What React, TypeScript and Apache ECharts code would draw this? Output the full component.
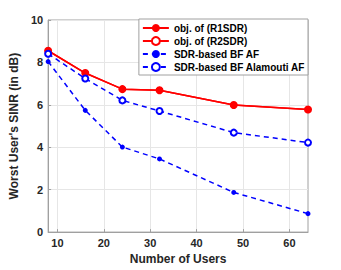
import React, { useEffect, useRef } from "react";
import * as echarts from "echarts";

const users = [8, 16, 24, 32, 48, 64];
const r1sdr = [8.55, 7.5, 6.74, 6.69, 5.99, 5.78];
const r2sdr = [8.55, 7.5, 6.74, 6.69, 5.99, 5.78];
const sdrAF = [8.04, 5.74, 4.01, 3.45, 1.87, 0.87];
const sdrAlamouti = [8.41, 7.24, 6.21, 5.71, 4.69, 4.22];
const xTicks = [10, 20, 30, 40, 50, 60];

const FONT = "Liberation Sans";

export default function App() {
  const ref = useRef<HTMLDivElement>(null);
  useEffect(() => {
    if (!ref.current) return;
    const chart = echarts.init(ref.current, undefined, { renderer: "svg" });
    const pts = (ys: number[]) => users.map((u, i) => [u, ys[i]]);
    chart.setOption({
      animation: false,
      grid: {
        left: 44,
        right: 33,
        top: 20,
        bottom: 30,
        show: true,
        borderColor: "#a0a0a0",
        borderWidth: 1,
      },
      legend: {
        z: 100,
        orient: "vertical",
        right: 33,
        top: 19,
        backgroundColor: "#ffffff",
        borderColor: "#a0a0a0",
        borderWidth: 1,
        padding: [4, 3, 3, 3],
        itemGap: 3,
        itemWidth: 26,
        itemHeight: 10,
        textStyle: { fontFamily: FONT, fontWeight: "bold", fontSize: 10, color: "#000" },
        data: ["obj. of (R1SDR)", "obj. of (R2SDR)", "SDR-based BF AF", "SDR-based BF Alamouti AF"],
      },
      xAxis: {
        type: "value",
        min: 8,
        max: 64,
        name: "Number of Users",
        nameLocation: "middle",
        nameGap: 19,
        nameTextStyle: { fontFamily: FONT, fontWeight: "bold", fontSize: 12, color: "#262626" },
        axisLine: { lineStyle: { color: "#a0a0a0" } },
        axisTick: { inside: true, length: 3, customValues: xTicks, lineStyle: { color: "#a0a0a0" } },
        axisLabel: {
          customValues: xTicks,
          fontFamily: FONT,
          fontWeight: "bold",
          fontSize: 11,
          color: "#262626",
          margin: 5,
        },
        splitLine: { show: false },
      },
      yAxis: {
        type: "value",
        min: 0,
        max: 10,
        interval: 2,
        name: "Worst User's SINR (in dB)",
        nameLocation: "middle",
        nameGap: 23,
        nameTextStyle: { fontFamily: FONT, fontWeight: "bold", fontSize: 12, color: "#262626" },
        axisLine: { show: true, lineStyle: { color: "#a0a0a0" } },
        axisTick: { show: true, inside: true, length: 3, lineStyle: { color: "#a0a0a0" } },
        axisLabel: { fontFamily: FONT, fontWeight: "bold", fontSize: 11, color: "#262626", margin: 5 },
        splitLine: { show: true, lineStyle: { color: "#e6e6e6", width: 1 } },
      },
      series: [
        {
          name: "grid-x",
          type: "line",
          z: 0,
          data: [],
          silent: true,
          markLine: {
            z: 0,
            silent: true,
            symbol: "none",
            label: { show: false },
            lineStyle: { color: "#e6e6e6", type: "solid", width: 1 },
            data: xTicks.map((t) => ({ xAxis: t })),
          },
        },
        {
          name: "obj. of (R2SDR)",
          type: "line",
          data: pts(r2sdr),
          symbol: "emptyCircle",
          symbolSize: 6,
          color: "#ff0000",
          lineStyle: { width: 1.5, color: "#ff0000" },
          itemStyle: { color: "#ff0000", borderWidth: 1.5 },
        },
        {
          name: "obj. of (R1SDR)",
          type: "line",
          data: pts(r1sdr),
          symbol: "circle",
          symbolSize: 7,
          color: "#ff0000",
          lineStyle: { width: 1.5, color: "#ff0000" },
          itemStyle: { color: "#ff0000" },
        },
        {
          name: "SDR-based BF AF",
          type: "line",
          data: pts(sdrAF),
          symbol: "circle",
          symbolSize: 5,
          color: "#0000ff",
          lineStyle: { width: 1.5, color: "#0000ff", type: [5, 4] },
          itemStyle: { color: "#0000ff" },
        },
        {
          name: "SDR-based BF Alamouti AF",
          type: "line",
          data: pts(sdrAlamouti),
          symbol: "emptyCircle",
          symbolSize: 6,
          color: "#0000ff",
          lineStyle: { width: 1.5, color: "#0000ff", type: [5, 4] },
          itemStyle: { color: "#0000ff", borderWidth: 1.5 },
        },
      ],
    });
    return () => chart.dispose();
  }, []);
  return <div ref={ref} style={{ width: 341, height: 270, position: "absolute", left: 0, top: 0, background: "#fff" }} />;
}
